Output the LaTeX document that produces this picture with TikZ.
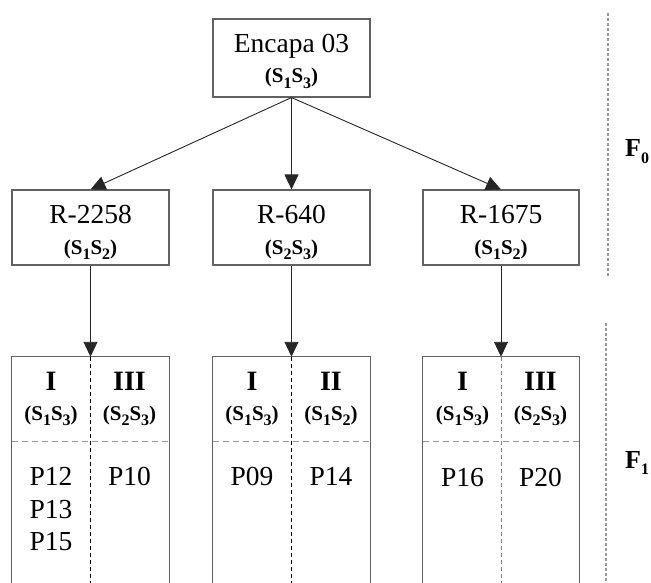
\documentclass[tikz,border=0pt]{standalone}
\usepackage{fontspec}
\setmainfont{Liberation Serif}
\usetikzlibrary{arrows.meta}
\newcommand\sbs[1]{\raisebox{-0.24em}{\fontsize{16}{16}\selectfont #1}}
\newcommand\pair[2]{(S\sbs{#1}S\sbs{#2})}
\tikzset{
  x=1pt, y=-1pt,
  boxa/.style={draw=black!62, line width=1.1pt, inner sep=0pt},
  big/.style={inner sep=0pt, anchor=base, font=\fontsize{27.5}{27.5}\selectfont},
  bigb/.style={inner sep=0pt, anchor=base, font=\bfseries\fontsize{28}{28}\selectfont},
  sml/.style={inner sep=0pt, anchor=base, font=\bfseries\fontsize{21}{21}\selectfont},
  arr/.style={-{Triangle[length=15pt,width=14pt]}, line width=0.9pt, draw=black!85},
  vdiv/.style={dashed, dash pattern=on 4pt off 3pt, line width=0.8pt},
  hdiv/.style={dash pattern=on 6pt off 4pt, line width=0.9pt, draw=black!40},
  fline/.style={dash pattern=on 3pt off 2pt, line width=1.6pt, draw=black!40},
  flab/.style={inner sep=0pt, anchor=base west, font=\bfseries\fontsize{26}{26}\selectfont}
}
\begin{document}
\begin{tikzpicture}
\useasboundingbox (0,0) rectangle (651,583);
% top box
\node[boxa, minimum width=157pt, minimum height=78pt] (top) at (291.5,58) {};
\node[big] (topt) at (291.5,53) {Encapa 03};
\node[sml] (tops) at (291.5,83) {\pair13};
% middle boxes
\node[boxa, minimum width=157pt, minimum height=75pt] (m1) at (90.5,227.5) {};
\node[boxa, minimum width=157pt, minimum height=75pt] (m2) at (291.5,227.5) {};
\node[boxa, minimum width=156pt, minimum height=75pt] (m3) at (501,227.5) {};
\node[big] (m1t) at (90.5,223) {R-2258};
\node[sml] (m1s) at (90.5,254) {\pair12};
\node[big] (m2t) at (291.5,223) {R-640};
\node[sml] (m2s) at (291.5,254) {\pair23};
\node[big] (m3t) at (501,223) {R-1675};
\node[sml] (m3s) at (501,254) {\pair12};
% bottom boxes (open at the bottom)
\node[inner sep=0pt, minimum width=157pt, minimum height=226pt] (b1) at (90.5,470) {};
\node[inner sep=0pt, minimum width=158pt, minimum height=226pt] (b2) at (291.5,470) {};
\node[inner sep=0pt, minimum width=156pt, minimum height=226pt] (b3) at (501,470) {};
\foreach \b in {b1,b2,b3}{
  \draw[draw=black!62, line width=1.1pt] (\b.south west) -- (\b.north west) -- (\b.north east) -- (\b.south east);
}
\draw[vdiv, draw=black] (b1.north) -- (b1.south);
\draw[vdiv, draw=black] (b2.north) -- (b2.south);
\draw[vdiv, draw=black!50] (b3.north) -- (b3.south);
\draw[hdiv] (12,441) -- (169,441);
\draw[hdiv] (212.5,441) -- (370.5,441);
\draw[hdiv] (423,441) -- (579,441);
% bottom texts
\node[bigb] (c11) at (51,390) {I};
\node[sml] (c11s) at (51,420) {\pair13};
\node[bigb] (c12) at (129.5,390) {III};
\node[sml] (c12s) at (129.5,420) {\pair23};
\node[big] (p12) at (51,485) {P12};
\node[big] (p13) at (51,518) {P13};
\node[big] (p15) at (51,550) {P15};
\node[big] (p10) at (129.5,485) {P10};
\node[bigb] (c21) at (252,390) {I};
\node[sml] (c21s) at (252,420) {\pair13};
\node[bigb] (c22) at (331,390) {II};
\node[sml] (c22s) at (331,420) {\pair12};
\node[big] (p09) at (252,485) {P09};
\node[big] (p14) at (331,485) {P14};
\node[bigb] (c31) at (462.5,390) {I};
\node[sml] (c31s) at (462.5,420) {\pair13};
\node[bigb] (c32) at (540.5,390) {III};
\node[sml] (c32s) at (540.5,420) {\pair23};
\node[big] (p16) at (462.5,486) {P16};
\node[big] (p20) at (540.5,486) {P20};
% arrows
\draw[arr] (top.south) -- (m1.north);
\draw[arr] (top.south) -- (m2.north);
\draw[arr] (top.south) -- (m3.north);
\draw[arr] (m1.south) -- (b1.north);
\draw[arr] (m2.south) -- (b2.north);
\draw[arr] (m3.south) -- (b3.north);
% generation markers
\coordinate (f0a) at (608,13);
\coordinate (f0b) at (608,278);
\coordinate (f1a) at (606,323);
\coordinate (f1b) at (606,583);
\draw[fline] (f0a) -- (f0b);
\draw[fline] (f1a) -- (f1b);
\node[flab] (F0) at (625,157) {F\sbs{0}};
\node[flab] (F1) at (625,468) {F\sbs{1}};
\end{tikzpicture}
\end{document}
